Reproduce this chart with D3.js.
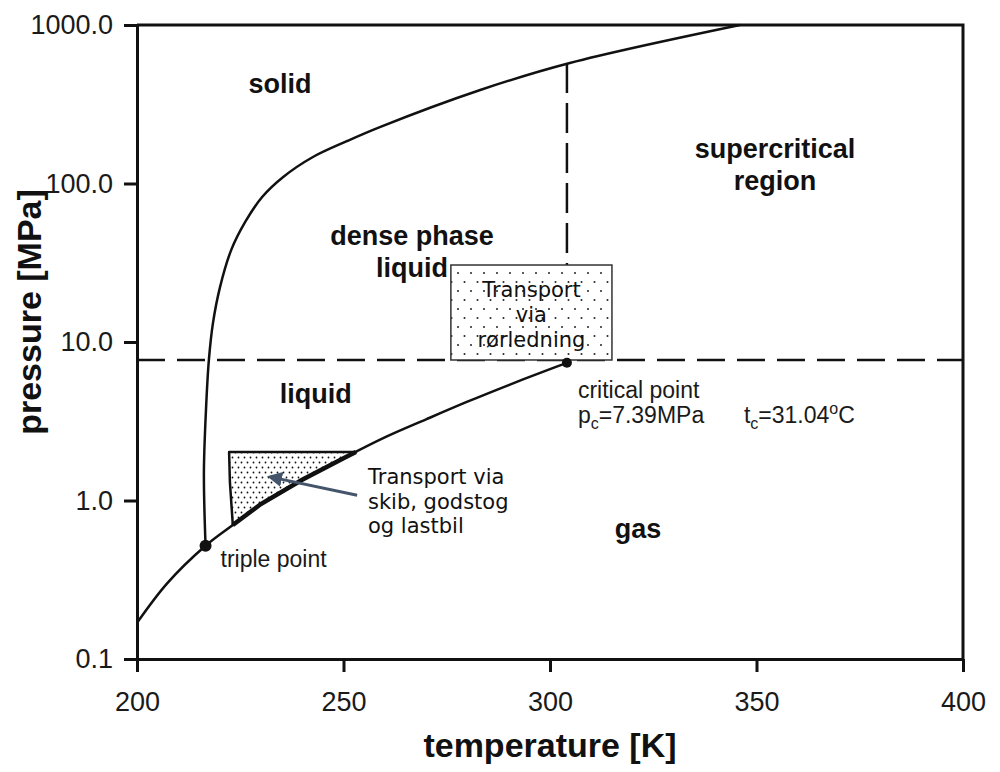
<!DOCTYPE html>
<html>
<head>
<meta charset="utf-8">
<script src="https://cdn.jsdelivr.net/npm/d3@7"></script>
<style>
	body { margin: 0; background: #fff; }
	svg { display: block; }
	.axis path, .axis line { stroke: #111; stroke-width: 3; }
	.axis text { font-family: "Liberation Sans", Arial, sans-serif; font-size: 27px; fill: #1a1a1a; }
	.phase { font-family: "Liberation Sans", Arial, sans-serif; font-weight: bold; font-size: 27px; fill: #111; }
	.note { font-family: "Liberation Sans", Arial, sans-serif; font-size: 23px; fill: #1a1a1a; }
	.dk { font-family: "DejaVu Sans", Verdana, sans-serif; font-size: 21px; fill: #111; }
</style>
</head>
<body>
<div id="chart"></div>
<script>
// axis ticks
var tempTicks = [200, 250, 300, 350, 400];
var pressTicks = [0.1, 1, 10, 100, 1000];

// sublimation + vapour pressure curve (K, MPa)
var vaporT = [200, 207.3, 216.6, 223.2, 230, 240, 250, 260, 270, 280, 290, 300, 304.1];
var vaporP = [0.169, 0.30, 0.518, 0.70, 0.95, 1.35, 1.85, 2.5, 3.25, 4.2, 5.35, 6.75, 7.39];

// melting curve (K, MPa)
var meltT = [216.6, 216.2, 216.7, 217.4, 218.4, 220.1, 222.8, 226.2, 230.3, 235.4, 242.6, 250.8, 258.8, 283.1, 304.8, 346];
var meltP = [0.518, 1.49, 3.72, 7.69, 13.2, 22.2, 38, 57.2, 82.2, 110, 147, 185, 227, 389, 576, 1000];

var triplePoint = [216.6, 0.518];
var criticalPoint = [304.1, 7.39];
var dashP = 7.7;

// ship / rail / truck region
var shipT = [222.3, 222.5, 223.2, 230, 240, 250, 253];
var shipP = [2.02, 1.3, 0.70, 0.95, 1.35, 1.85, 2.02];

// pipeline box
var pipeT = [276, 315];
var pipeP = [7.7, 30.6];

// arrow (tail, head)
var arrowT = [253.3, 232.2];
var arrowP = [1.08, 1.41];

var phaseLabels = [
	{ lines: ["solid"], t: 234.6, p: 372 },
	{ lines: ["dense phase", "liquid"], t: 266.6, p: 40.9 },
	{ lines: ["supercritical", "region"], t: 354.5, p: 145 },
	{ lines: ["liquid"], t: 243.3, p: 4.12 },
	{ lines: ["gas"], t: 321.3, p: 0.58 }
];
var pipeLines = ["Transport", "via", "rørledning"];
var shipLines = ["Transport via", "skib, godstog", "og lastbil"];

var width = 1000, height = 772;
var x = d3.scaleLinear().domain([200, 400]).range([137, 963]);
var y = d3.scaleLog().domain([0.1, 1000]).range([659, 25]);

var svg = d3.select("#chart").append("svg")
	.attr("width", width)
	.attr("height", height);

var defs = svg.append("defs");

var pat1 = defs.append("pattern")
	.attr("id", "dotsFine")
	.attr("patternUnits", "userSpaceOnUse")
	.attr("width", 6).attr("height", 10);
pat1.append("rect").attr("width", 6).attr("height", 10).attr("fill", "#fff");
pat1.append("circle").attr("cx", 1.5).attr("cy", 2.5).attr("r", 0.9).attr("fill", "#111");
pat1.append("circle").attr("cx", 4.5).attr("cy", 7.5).attr("r", 0.9).attr("fill", "#111");

var pat2 = defs.append("pattern")
	.attr("id", "dotsWide")
	.attr("patternUnits", "userSpaceOnUse")
	.attr("width", 13).attr("height", 18);
pat2.append("rect").attr("width", 13).attr("height", 18).attr("fill", "#fff");
pat2.append("circle").attr("cx", 3).attr("cy", 3).attr("r", 1).attr("fill", "#222");
pat2.append("circle").attr("cx", 9.5).attr("cy", 12).attr("r", 1).attr("fill", "#222");

defs.append("marker")
	.attr("id", "head")
	.attr("viewBox", "0 0 10 10")
	.attr("refX", 8).attr("refY", 5)
	.attr("markerWidth", 5).attr("markerHeight", 5)
	.attr("markerUnits", "strokeWidth")
	.attr("orient", "auto")
	.append("path")
	.attr("d", "M0,0 L10,5 L0,10 z")
	.attr("fill", "#44546a");

function zip(ts, ps)
{
	return ts.map(function(t, i) { return [t, ps[i]]; });
}

var smooth = d3.line()
	.curve(d3.curveCatmullRom.alpha(0.5))
	.x(function(d) { return x(d[0]); })
	.y(function(d) { return y(d[1]); });

var straight = d3.line()
	.x(function(d) { return x(d[0]); })
	.y(function(d) { return y(d[1]); });

// dashed guide lines
svg.append("line")
	.attr("x1", x(200)).attr("x2", x(400))
	.attr("y1", y(dashP)).attr("y2", y(dashP))
	.attr("stroke", "#111").attr("stroke-width", 2.5)
	.attr("stroke-dasharray", "28,12");

svg.append("line")
	.attr("x1", x(criticalPoint[0])).attr("x2", x(criticalPoint[0]))
	.attr("y1", y(576)).attr("y2", y(dashP))
	.attr("stroke", "#111").attr("stroke-width", 2.5)
	.attr("stroke-dasharray", "30,10");

// shaded ship region
var ship = zip(shipT, shipP);
svg.append("path")
	.attr("d", straight(ship) + "Z")
	.attr("fill", "url(#dotsFine)")
	.attr("stroke", "#111")
	.attr("stroke-width", 2.5)
	.attr("stroke-linejoin", "round");
svg.append("path")
	.attr("d", straight(ship.slice(2)))
	.attr("fill", "none")
	.attr("stroke", "#111")
	.attr("stroke-width", 4.5);

// phase curves
svg.append("path")
	.attr("d", smooth(zip(vaporT, vaporP)))
	.attr("fill", "none").attr("stroke", "#111").attr("stroke-width", 2.5);

svg.append("path")
	.attr("d", smooth(zip(meltT, meltP)))
	.attr("fill", "none").attr("stroke", "#111").attr("stroke-width", 2.5);

// pipeline box
svg.append("rect")
	.attr("x", x(pipeT[0]))
	.attr("y", y(pipeP[1]))
	.attr("width", x(pipeT[1]) - x(pipeT[0]))
	.attr("height", y(pipeP[0]) - y(pipeP[1]))
	.attr("fill", "url(#dotsWide)")
	.attr("stroke", "#333")
	.attr("stroke-width", 1.5);

svg.append("text")
	.attr("class", "dk")
	.attr("text-anchor", "middle")
	.selectAll("tspan")
	.data(pipeLines)
	.enter()
	.append("tspan")
	.attr("x", (x(pipeT[0]) + x(pipeT[1])) / 2)
	.attr("y", function(d, i) { return y(pipeP[1]) + 32 + i * 25; })
	.text(function(d) { return d; });

// points
[triplePoint, criticalPoint].forEach(function(pt, i)
{
	svg.append("circle")
		.attr("cx", x(pt[0])).attr("cy", y(pt[1]))
		.attr("r", i == 0 ? 6 : 5)
		.attr("fill", "#111");
});

// axes
svg.append("g")
	.attr("class", "axis")
	.attr("transform", "translate(0," + y(0.1) + ")")
	.call(d3.axisBottom(x).tickValues(tempTicks).tickSize(13).tickPadding(20).tickSizeOuter(0));

svg.append("g")
	.attr("class", "axis")
	.attr("transform", "translate(" + x(200) + ",0)")
	.call(d3.axisLeft(y).tickValues(pressTicks).tickSize(13).tickPadding(11).tickSizeOuter(0)
		.tickFormat(d3.format(".1f")));

// frame top + right
svg.append("path")
	.attr("d", "M" + x(200) + "," + y(1000) + "H" + x(400) + "V" + y(0.1))
	.attr("fill", "none").attr("stroke", "#111").attr("stroke-width", 3);

// axis titles
svg.append("text")
	.attr("class", "phase")
	.style("font-size", "34px")
	.attr("x", (x(200) + x(400)) / 2)
	.attr("y", 757)
	.attr("text-anchor", "middle")
	.text("temperature [K]");

svg.append("text")
	.attr("class", "phase")
	.style("font-size", "34px")
	.attr("transform", "translate(41,312) rotate(-90)")
	.attr("text-anchor", "middle")
	.text("pressure [MPa]");

// phase labels
phaseLabels.forEach(function(l)
{
	svg.append("text")
		.attr("class", "phase")
		.attr("text-anchor", "middle")
		.selectAll("tspan")
		.data(l.lines)
		.enter()
		.append("tspan")
		.attr("x", x(l.t))
		.attr("y", function(d, i) { return y(l.p) + i * 32; })
		.text(function(d) { return d; });
});

// point notes
svg.append("text")
	.attr("class", "note")
	.attr("x", x(triplePoint[0]) + 15)
	.attr("y", y(triplePoint[1]) + 21)
	.text("triple point");

var cx = x(criticalPoint[0]), cy = y(criticalPoint[1]);
svg.append("text")
	.attr("class", "note")
	.attr("x", cx + 11)
	.attr("y", cy + 35)
	.text("critical point");

var pc = svg.append("text")
	.attr("class", "note")
	.attr("x", cx + 11)
	.attr("y", cy + 60);
pc.append("tspan").text("p");
pc.append("tspan").attr("dy", 6).style("font-size", "16px").text("c");
pc.append("tspan").attr("dy", -6).text("=7.39MPa");

var tc = svg.append("text")
	.attr("class", "note")
	.attr("x", cx + 177)
	.attr("y", cy + 60);
tc.append("tspan").text("t");
tc.append("tspan").attr("dy", 6).style("font-size", "16px").text("c");
tc.append("tspan").attr("dy", -6).text("=31.04");
tc.append("tspan").attr("dy", -9).style("font-size", "16px").text("o");
tc.append("tspan").attr("dy", 9).text("C");

// ship annotation + arrow
svg.append("line")
	.attr("x1", x(arrowT[0])).attr("y1", y(arrowP[0]))
	.attr("x2", x(arrowT[1])).attr("y2", y(arrowP[1]))
	.attr("stroke", "#44546a")
	.attr("stroke-width", 3)
	.attr("marker-end", "url(#head)");

svg.append("text")
	.attr("class", "dk")
	.selectAll("tspan")
	.data(shipLines)
	.enter()
	.append("tspan")
	.attr("x", 368)
	.attr("y", function(d, i) { return 484 + i * 24.5; })
	.text(function(d) { return d; });
</script>
</body>
</html>
